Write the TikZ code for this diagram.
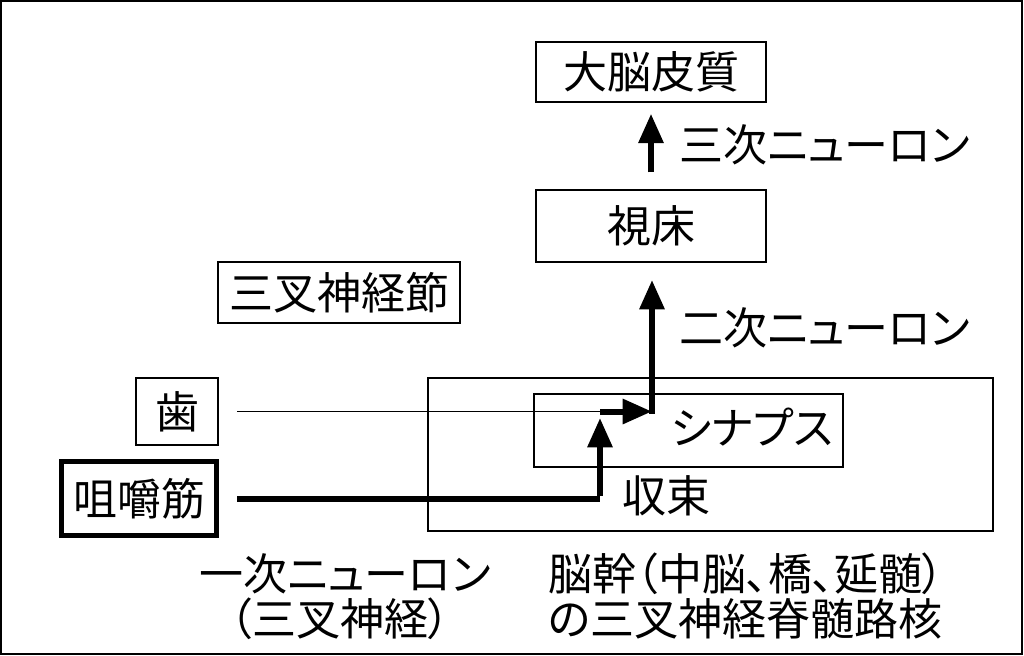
\documentclass[tikz,border=0pt]{standalone}
\usepackage{fontspec}
\setmainfont{Noto Sans CJK JP}[RawFeature=+palt]
\usetikzlibrary{arrows.meta}
\begin{document}
\begin{tikzpicture}[x=0.75pt,y=-0.75pt,
  lbl/.style={font=\fontsize{33pt}{37pt}\selectfont, inner sep=0pt},
  boxn/.style={draw, line width=1.1pt, inner sep=0pt, font=\fontsize{33pt}{37pt}\selectfont},
  thickline/.style={line width=4.5pt},
  thinline/.style={line width=0.8pt},
  arr/.style={line width=4.5pt, -{Triangle[length=22pt,width=18pt]}}]
\useasboundingbox (0,0) rectangle (1024,656);
\draw[line width=1.6pt] (1,1) rectangle (1022,654);
% boxes
\node[boxn, minimum width=172.5pt, minimum height=45pt] (cortex) at (651,72) {大脳皮質};
\node[boxn, minimum width=172.5pt, minimum height=54pt] (thal) at (651,226) {視床};
\node[boxn, minimum width=181.5pt, minimum height=45.75pt] (gang) at (339,292.5) {三叉神経節};
\node[boxn, minimum width=61.5pt, minimum height=50.25pt] (tooth) at (177,411.5) {歯};
\node[boxn, line width=3.6pt, minimum width=116pt, minimum height=55pt] (mast) at (139,498.5) {咀嚼筋};
\node[boxn, minimum width=423.75pt, minimum height=114.75pt] (stem) at (710.5,454.5) {};
\node[boxn, minimum width=231.75pt, minimum height=54.75pt] (synbox) at (688.5,430.5) {};
% labels
\node[lbl] (syn) at (752,427) {シナプス};
\node[lbl] (conv) at (666,496) {収束};
\node[lbl, anchor=west] (third) at (679,145) {三次ニューロン};
\node[lbl, anchor=west] (second) at (679,328) {二次ニューロン};
\node[lbl] (first) at (345,574) {一次ニューロン};
\node[lbl] (firstb) at (340,619) {（三叉神経）};
\node[lbl, anchor=west] (bs1) at (548,574) {脳幹（中脳、橋、延髄）};
\node[lbl, anchor=west] (bs2) at (548,619) {の三叉神経脊髄路核};
% connectors
\coordinate (j1) at (600,411.5);
\coordinate (j2) at (600,498.5);
\coordinate (sp) at (652,411.5);
\coordinate (mtip) at (600,418);
\draw[thinline] ([xshift=14pt]tooth.east) -- (j1);
\draw[arr] (j1) -- (sp);
\draw[thickline] ([xshift=14pt]mast.east) -- (j2);
\draw[arr] ([yshift=1.7pt]j2) -- (mtip);
\draw[arr] (652,413.5) -- (652,280);
\draw[arr] ([yshift=12.75pt]thal.north) -- ([yshift=-8.25pt]cortex.south);
\end{tikzpicture}
\end{document}
